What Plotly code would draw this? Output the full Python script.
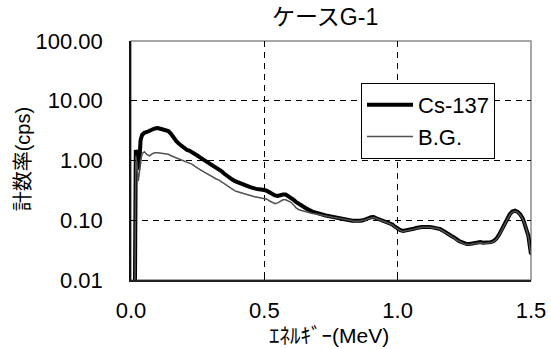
import plotly.graph_objects as go

energy = [0.000, 0.010, 0.014, 0.018, 0.022, 0.027, 0.031, 0.036, 0.042, 0.050,
          0.060, 0.070, 0.080, 0.090, 0.100, 0.110, 0.120, 0.130, 0.140, 0.150,
          0.160, 0.170, 0.180, 0.190, 0.200, 0.210, 0.220, 0.230, 0.240, 0.250,
          0.260, 0.270, 0.280, 0.290, 0.300, 0.310, 0.320, 0.330, 0.340, 0.350,
          0.360, 0.370, 0.380, 0.390, 0.400, 0.410, 0.420, 0.430, 0.440, 0.450,
          0.460, 0.470, 0.480, 0.490, 0.500, 0.510, 0.520, 0.530, 0.540, 0.550,
          0.560, 0.570, 0.580, 0.590, 0.600, 0.610, 0.620, 0.630, 0.640, 0.650,
          0.660, 0.670, 0.680, 0.690, 0.700, 0.710, 0.720, 0.730, 0.740, 0.750,
          0.760, 0.770, 0.780, 0.790, 0.800, 0.810, 0.820, 0.830, 0.840, 0.850,
          0.860, 0.870, 0.880, 0.890, 0.900, 0.910, 0.920, 0.930, 0.940, 0.950,
          0.960, 0.970, 0.980, 0.990, 1.000, 1.010, 1.020, 1.030, 1.040, 1.050,
          1.060, 1.070, 1.080, 1.090, 1.100, 1.110, 1.120, 1.130, 1.140, 1.150,
          1.160, 1.170, 1.180, 1.190, 1.200, 1.210, 1.220, 1.230, 1.240, 1.250,
          1.260, 1.270, 1.280, 1.290, 1.300, 1.310, 1.320, 1.330, 1.340, 1.350,
          1.360, 1.370, 1.380, 1.390, 1.400, 1.410, 1.420, 1.430, 1.440, 1.450,
          1.460, 1.470, 1.480, 1.490, 1.500]

cs137 = [0.001, 0.001, 0.002, 1.5, 1.2, 0.7, 0.9, 2.2, 2.7, 2.9,
         3.0, 3.1, 3.3, 3.45, 3.5, 3.4, 3.3, 3.25, 3.1, 2.8,
         2.4, 2.1, 1.9, 1.75, 1.6, 1.5, 1.45, 1.38, 1.28, 1.2,
         1.12, 1.05, 0.98, 0.92, 0.86, 0.80, 0.75, 0.71, 0.66, 0.60,
         0.55, 0.52, 0.48, 0.45, 0.43, 0.41, 0.39, 0.38, 0.37, 0.355,
         0.34, 0.335, 0.33, 0.33, 0.32, 0.31, 0.29, 0.28, 0.26, 0.255,
         0.265, 0.27, 0.27, 0.255, 0.24, 0.22, 0.20, 0.185, 0.175, 0.165,
         0.155, 0.145, 0.14, 0.135, 0.13, 0.125, 0.122, 0.12, 0.118, 0.115,
         0.114, 0.112, 0.11, 0.108, 0.105, 0.102, 0.100, 0.098, 0.097, 0.097,
         0.098, 0.100, 0.102, 0.108, 0.112, 0.113, 0.108, 0.104, 0.100, 0.098,
         0.094, 0.090, 0.085, 0.078, 0.072, 0.068, 0.066, 0.067, 0.068, 0.069,
         0.072, 0.074, 0.076, 0.077, 0.077, 0.078, 0.077, 0.076, 0.075, 0.074,
         0.071, 0.067, 0.062, 0.058, 0.055, 0.052, 0.048, 0.045, 0.043, 0.041,
         0.040, 0.040, 0.041, 0.042, 0.042, 0.043, 0.042, 0.042, 0.042, 0.043,
         0.045, 0.049, 0.057, 0.070, 0.088, 0.105, 0.125, 0.140, 0.145, 0.138,
         0.125, 0.105, 0.080, 0.055, 0.027]

background = [0.001, 0.001, 0.002, 1.2, 0.9, 0.45, 0.6, 1.0, 1.3, 1.4,
              1.25, 1.2, 1.3, 1.35, 1.35, 1.33, 1.32, 1.28, 1.27, 1.2,
              1.15, 1.1, 1.07, 1.02, 0.98, 0.95, 0.90, 0.86, 0.80, 0.74,
              0.70, 0.66, 0.62, 0.58, 0.55, 0.52, 0.49, 0.47, 0.44, 0.41,
              0.38, 0.35, 0.33, 0.31, 0.30, 0.29, 0.28, 0.27, 0.265, 0.26,
              0.25, 0.245, 0.24, 0.24, 0.235, 0.225, 0.21, 0.20, 0.19, 0.195,
              0.21, 0.22, 0.22, 0.21, 0.20, 0.18, 0.16, 0.15, 0.145, 0.14,
              0.135, 0.132, 0.13, 0.128, 0.125, 0.122, 0.119, 0.117, 0.115, 0.113,
              0.111, 0.110, 0.108, 0.106, 0.103, 0.100, 0.098, 0.097, 0.096, 0.096,
              0.097, 0.099, 0.101, 0.106, 0.110, 0.111, 0.107, 0.103, 0.099, 0.096,
              0.093, 0.089, 0.084, 0.077, 0.071, 0.067, 0.065, 0.066, 0.067, 0.068,
              0.071, 0.073, 0.075, 0.076, 0.076, 0.077, 0.076, 0.075, 0.074, 0.073,
              0.070, 0.066, 0.061, 0.057, 0.054, 0.051, 0.047, 0.044, 0.042, 0.040,
              0.039, 0.039, 0.040, 0.041, 0.041, 0.042, 0.041, 0.041, 0.041, 0.042,
              0.044, 0.048, 0.056, 0.068, 0.086, 0.103, 0.122, 0.137, 0.142, 0.135,
              0.122, 0.102, 0.078, 0.053, 0.026]

x_ticks = [0.0, 0.5, 1.0, 1.5]
x_ticklabels = ["0.0", "0.5", "1.0", "1.5"]
y_ticks = [0.01, 0.1, 1, 10, 100]
y_ticklabels = ["0.01", "0.10", "1.00", "10.00", "100.00"]

FONT = "Liberation Sans, Arial, Noto Sans CJK JP, sans-serif"

fig = go.Figure()
fig.add_trace(go.Scatter(x=energy, y=cs137, mode="lines", name="Cs-137",
                         line=dict(color="#000000", width=4)))
fig.add_trace(go.Scatter(x=energy, y=background, mode="lines", name="B.G.",
                         line=dict(color="#505050", width=1.5)))

fig.add_shape(type="rect", xref="x domain", yref="y domain", x0=0, x1=1, y0=0, y1=1,
              line=dict(color="#8a8a8a", width=1.5), layer="below")

fig.update_layout(
    template="none",
    width=551, height=349,
    margin=dict(l=131, r=20, t=41, b=69, pad=0, autoexpand=False),
    paper_bgcolor="white", plot_bgcolor="white",
    font=dict(family=FONT, size=21, color="black"),
    showlegend=True,
    legend=dict(x=0.575, y=0.824, xanchor="left", yanchor="top",
                bordercolor="black", borderwidth=1, bgcolor="white",
                font=dict(size=22), tracegroupgap=0, itemwidth=46),
    annotations=[
        dict(text="ケースG-1", xref="paper", yref="paper", x=0.485, y=1.10,
             xanchor="center", yanchor="middle", showarrow=False,
             font=dict(size=23)),
        dict(text="計数率(cps)", xref="paper", yref="paper", x=-0.27, y=0.505,
             xanchor="center", yanchor="middle", showarrow=False, textangle=-90,
             font=dict(size=20)),
        dict(text="ｴﾈﾙｷﾞｰ(MeV)", xref="paper", yref="paper", x=0.495, y=-0.232,
             xanchor="center", yanchor="middle", showarrow=False,
             font=dict(size=21)),
    ],
)

fig.update_xaxes(range=[0, 1.5], tickvals=x_ticks, ticktext=x_ticklabels,
                 showgrid=True, gridcolor="black", gridwidth=1, griddash="6px,5px",
                 showline=True, linecolor="#222222", linewidth=2,
                 ticks="inside", ticklen=5, tickcolor="black",
                 ticklabelstandoff=10, zeroline=False, automargin=False,
                 tickfont=dict(size=22))
fig.update_yaxes(type="log", range=[-2, 2], tickvals=y_ticks, ticktext=y_ticklabels,
                 showgrid=True, gridcolor="black", gridwidth=1, griddash="6px,5px",
                 showline=True, linecolor="#111111", linewidth=1.5,
                 ticks="inside", ticklen=5, tickcolor="black",
                 ticklabelstandoff=22, zeroline=False, automargin=False,
                 tickfont=dict(size=22))

fig.write_html("out.html")
